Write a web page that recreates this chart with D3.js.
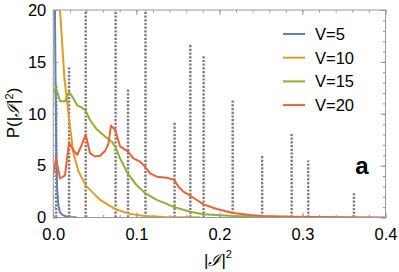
<!DOCTYPE html>
<html>
<head>
<meta charset="utf-8">
<script src="https://cdn.jsdelivr.net/npm/d3@7"></script>
<style>
body { margin: 0; background: #fff; }
text { font-family: "Liberation Sans", Arial, sans-serif; }
</style>
</head>
<body>
<svg id="chart" width="399" height="272"></svg>
<script>
// dotted reference lines (position, height)
var peakX = [0.0035, 0.019, 0.039, 0.075, 0.09, 0.111, 0.146, 0.165, 0.181, 0.216, 0.2515, 0.287, 0.307, 0.362];
var peakH = [12.9, 14.5, 25, 25, 12.45, 25, 9.2, 16.7, 15.6, 11.3, 5.96, 8.1, 5.5, 2.33];

var v5x = [0.001, 0.0025, 0.0035, 0.0045, 0.006, 0.008, 0.011, 0.015, 0.02, 0.028];
var v5y = [30, 15, 7, 3, 1.2, 0.5, 0.25, 0.12, 0.06, 0.02];

var v10x = [0.004, 0.0081, 0.0133, 0.019, 0.024, 0.030, 0.039, 0.0563, 0.0747, 0.0924, 0.110, 0.134, 0.177];
var v10y = [26, 20, 13.5, 9.5, 6.3, 4.5, 3.1, 1.7, 0.8, 0.35, 0.15, 0.06, 0.02];

var v15x = [0.0, 0.0033, 0.0081, 0.0141, 0.0189, 0.0241, 0.0289, 0.0342, 0.039, 0.0442, 0.0523, 0.0623, 0.0704, 0.0747, 0.0804, 0.090, 0.1005, 0.1105, 0.1246, 0.1458, 0.1647, 0.1807, 0.2169, 0.253, 0.325];
var v15y = [12.1, 12.5, 11.2, 11.2, 12.1, 11.5, 10.8, 10.6, 10.3, 9.4, 8.5, 7.8, 7.3, 6.8, 5.7, 4.2, 3.1, 2.35, 1.7, 1.0, 0.56, 0.32, 0.15, 0.08, 0.02];

var v20x = [0.0, 0.0033, 0.0081, 0.0141, 0.0189, 0.0241, 0.0289, 0.0342, 0.039, 0.0442, 0.0502, 0.0563, 0.0623, 0.0663, 0.0695, 0.0747, 0.0804, 0.090, 0.0964, 0.1045, 0.1105, 0.1165, 0.1246, 0.1366, 0.1458, 0.1506, 0.1566, 0.165, 0.1728, 0.1807, 0.1969, 0.2161, 0.237, 0.2514, 0.2867, 0.3173, 0.4];
var v20y = [4.1, 5.7, 3.76, 4.05, 7.2, 6.5, 6.05, 7.0, 8.0, 6.2, 5.88, 5.96, 6.4, 7.1, 8.85, 8.43, 6.85, 6.35, 5.7, 5.38, 4.9, 4.26, 3.93, 3.84, 3.61, 2.97, 2.49, 2.1, 1.69, 1.27, 0.82, 0.43, 0.24, 0.14, 0.08, 0.04, 0.01];

var names = ["V=5", "V=10", "V=15", "V=20"];
var colors = ["#5E81B5", "#E19C24", "#8FB032", "#EB6235"];
var xTicks = [0, 0.1, 0.2, 0.3, 0.4];
var yTicks = [0, 5, 10, 15, 20];

var svg = d3.select("#chart"),
	x = d3.scaleLinear().domain([0, 0.4]).range([53.3, 385.5]),
	y = d3.scaleLinear().domain([0, 20]).range([217.5, 10]);

var series = [[v5x, v5y], [v10x, v10y], [v15x, v15y], [v20x, v20y]].map(function(s) {
	return s[0].map(function(d, i) { return [d, s[1][i]]; });
});

svg.append("clipPath").attr("id", "plot")
	.append("rect")
	.attr("x", x(0)).attr("y", y(20))
	.attr("width", x(0.4) - x(0)).attr("height", y(0) - y(20));

var plot = svg.append("g").attr("clip-path", "url(#plot)");

// dotted lines
plot.selectAll(".peak")
	.data(peakX)
	.enter().append("line")
	.attr("x1", function(d) { return x(d); })
	.attr("x2", function(d) { return x(d); })
	.attr("y1", y(0))
	.attr("y2", function(d, i) { return y(peakH[i]); })
	.attr("stroke", "#7a7a7a")
	.attr("stroke-width", 2.4)
	.attr("stroke-dasharray", "2.2,1.5");

var line = d3.line()
	.x(function(d) { return x(d[0]); })
	.y(function(d) { return y(d[1]); });

plot.selectAll(".curve")
	.data(series)
	.enter().append("path")
	.attr("d", line)
	.attr("fill", "none")
	.attr("stroke", function(d, i) { return colors[i]; })
	.attr("stroke-width", 2)
	.attr("stroke-linejoin", "round");

// frame + ticks
var minorX = d3.range(0, 0.4001, 0.02),
	minorY = d3.range(0, 20.001, 1);

function tickAxis(axis, pos, major, minor, labels, pad) {
	var g = svg.append("g").attr("transform", pos);
	g.call(axis.tickValues(minor).tickSize(-2.5).tickFormat(""));
	g.selectAll("line").attr("stroke", "#999");
	var g2 = svg.append("g").attr("transform", pos);
	g2.call(axis.tickValues(major).tickSize(-5).tickPadding(pad).tickFormat(labels ? labels : ""));
	g2.selectAll("line").attr("stroke", "#999");
	g.select(".domain").remove();
	g2.select(".domain").remove();
	g2.selectAll("text").attr("fill", "#000").style("font-size", "16.5px")
		.style("font-family", "'Liberation Sans', Arial, sans-serif");
	return g2;
}

tickAxis(d3.axisBottom(x), "translate(0," + y(0) + ")", xTicks, minorX, d3.format(".1f"), 11);
tickAxis(d3.axisTop(x), "translate(0," + y(20) + ")", xTicks, minorX, null, 7);
tickAxis(d3.axisLeft(y), "translate(" + x(0) + ",0)", yTicks, minorY, d3.format("d"), 7);
tickAxis(d3.axisRight(y), "translate(" + x(0.4) + ",0)", yTicks, minorY, null, 7);

svg.append("rect")
	.attr("x", x(0)).attr("y", y(20))
	.attr("width", x(0.4) - x(0)).attr("height", y(0) - y(20))
	.attr("fill", "none").attr("stroke", "#999").attr("stroke-width", 1);

// legend
var legend = svg.append("g").selectAll("g")
	.data(names)
	.enter().append("g")
	.attr("transform", function(d, i) { return "translate(283," + (34 + i * 23.7) + ")"; });
legend.append("line")
	.attr("x1", 0).attr("x2", 22)
	.attr("stroke", function(d, i) { return colors[i]; })
	.attr("stroke-width", 2);
legend.append("text")
	.attr("x", 32).attr("y", 6)
	.style("font-size", "16.5px")
	.text(function(d) { return d; });

svg.append("text")
	.attr("x", 362).attr("y", 174)
	.attr("text-anchor", "middle")
	.style("font-size", "24px").style("font-weight", "bold")
	.text("a");

// axis labels
var xl = svg.append("text")
	.attr("x", 218).attr("y", 266)
	.attr("text-anchor", "middle")
	.style("font-size", "17px");
xl.append("tspan").text("|");
xl.append("tspan").style("font-style", "italic").style("font-family", "'DejaVu Serif', serif").text("ℐ");
xl.append("tspan").text("|");
xl.append("tspan").attr("dy", -8).style("font-size", "11px").text("2");

var yl = svg.append("text")
	.attr("transform", "translate(19,113) rotate(-90)")
	.attr("text-anchor", "middle")
	.style("font-size", "17px");
yl.append("tspan").text("P(|");
yl.append("tspan").style("font-style", "italic").style("font-family", "'DejaVu Serif', serif").text("ℐ");
yl.append("tspan").text("|");
yl.append("tspan").attr("dy", -6).style("font-size", "11px").text("2");
yl.append("tspan").attr("dy", 6).text(")");
</script>
</body>
</html>
